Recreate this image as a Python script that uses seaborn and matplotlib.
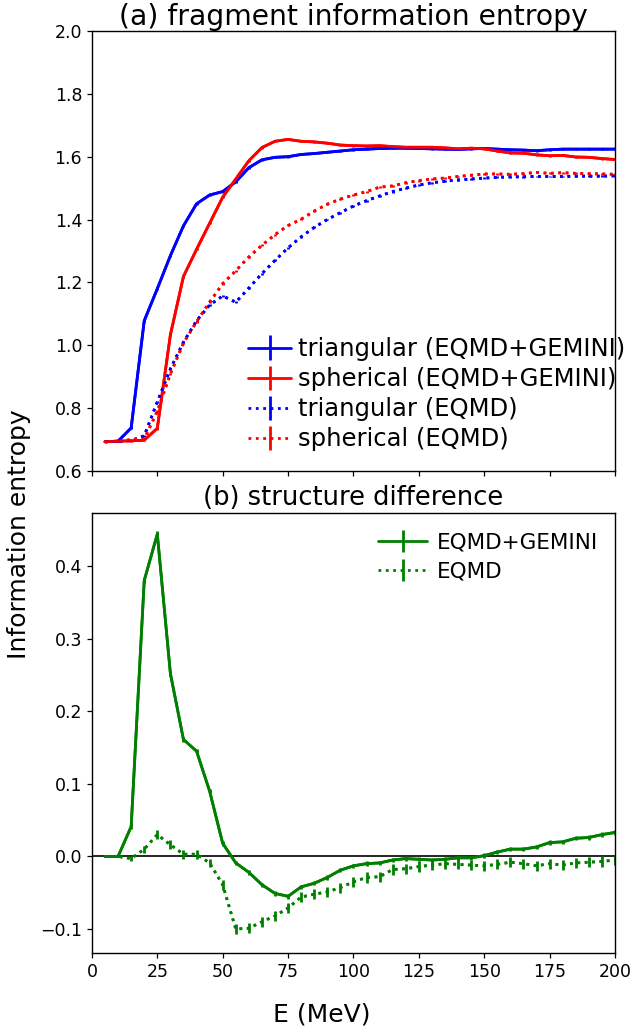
import numpy as np
import pandas as pd
import matplotlib
matplotlib.use("Agg")
import matplotlib.pyplot as plt
import seaborn as sns

# ---------------- data ----------------
energy = [5, 10, 15, 20, 25, 30, 35, 40, 45, 50, 55, 60, 65, 70, 75, 80, 85, 90, 95, 100,
          105, 110, 115, 120, 125, 130, 135, 140, 145, 150, 155, 160, 165, 170, 175, 180,
          185, 190, 195, 200]

tri_gemini = [0.693, 0.695, 0.737, 1.078, 1.180, 1.285, 1.380, 1.450, 1.478, 1.489,
              1.520, 1.565, 1.590, 1.598, 1.600, 1.607, 1.610, 1.614, 1.618, 1.622,
              1.624, 1.626, 1.627, 1.627, 1.626, 1.625, 1.624, 1.623, 1.625, 1.626,
              1.624, 1.622, 1.621, 1.619, 1.622, 1.624, 1.624, 1.624, 1.624, 1.624]
sph_gemini = [0.693, 0.695, 0.696, 0.698, 0.736, 1.033, 1.219, 1.305, 1.388, 1.471,
              1.529, 1.587, 1.629, 1.649, 1.655, 1.649, 1.647, 1.643, 1.637, 1.635,
              1.634, 1.635, 1.632, 1.630, 1.630, 1.630, 1.628, 1.625, 1.627, 1.625,
              1.618, 1.612, 1.611, 1.606, 1.603, 1.604, 1.599, 1.598, 1.594, 1.591]
tri_eqmd = [0.693, 0.694, 0.697, 0.712, 0.820, 0.925, 1.010, 1.078, 1.128, 1.157,
            1.137, 1.182, 1.228, 1.270, 1.310, 1.345, 1.375, 1.400, 1.422, 1.443,
            1.460, 1.475, 1.489, 1.500, 1.510, 1.517, 1.522, 1.526, 1.529, 1.532,
            1.534, 1.536, 1.536, 1.537, 1.537, 1.537, 1.538, 1.538, 1.538, 1.539]
sph_eqmd = [0.693, 0.694, 0.700, 0.702, 0.790, 0.909, 1.007, 1.075, 1.137, 1.196,
            1.237, 1.281, 1.318, 1.352, 1.381, 1.401, 1.427, 1.449, 1.465, 1.478,
            1.489, 1.503, 1.507, 1.517, 1.524, 1.529, 1.532, 1.537, 1.541, 1.545,
            1.545, 1.544, 1.546, 1.550, 1.547, 1.549, 1.547, 1.546, 1.545, 1.544]
err_top = [0.002, 0.002, 0.003, 0.004, 0.004, 0.004, 0.004, 0.003, 0.003, 0.003,
           0.003, 0.003, 0.003, 0.003, 0.003, 0.003, 0.003, 0.003, 0.003, 0.003,
           0.003, 0.003, 0.003, 0.003, 0.003, 0.003, 0.003, 0.003, 0.003, 0.003,
           0.003, 0.003, 0.003, 0.003, 0.003, 0.003, 0.003, 0.003, 0.003, 0.003]

diff_gemini = [0.000, 0.000, 0.041, 0.380, 0.444, 0.252, 0.161, 0.145, 0.090, 0.018,
               -0.009, -0.022, -0.039, -0.051, -0.055, -0.042, -0.037, -0.029, -0.019, -0.013,
               -0.010, -0.009, -0.005, -0.003, -0.004, -0.005, -0.004, -0.002, -0.002, 0.001,
               0.006, 0.010, 0.010, 0.013, 0.019, 0.020, 0.025, 0.026, 0.030, 0.033]
diff_eqmd = [0.000, 0.000, -0.003, 0.010, 0.030, 0.016, 0.003, 0.003, -0.009, -0.039,
             -0.100, -0.099, -0.090, -0.082, -0.071, -0.056, -0.052, -0.049, -0.043, -0.035,
             -0.029, -0.028, -0.018, -0.017, -0.014, -0.012, -0.010, -0.011, -0.012, -0.013,
             -0.011, -0.008, -0.010, -0.013, -0.010, -0.012, -0.009, -0.008, -0.007, -0.005]
err_diff_gemini = [0.001, 0.001, 0.003, 0.004, 0.004, 0.004, 0.004, 0.003, 0.003, 0.003,
                   0.003, 0.003, 0.003, 0.003, 0.003, 0.003, 0.003, 0.003, 0.003, 0.003,
                   0.003, 0.003, 0.003, 0.003, 0.003, 0.003, 0.003, 0.003, 0.003, 0.003,
                   0.003, 0.003, 0.003, 0.003, 0.003, 0.003, 0.003, 0.003, 0.003, 0.003]
err_diff_eqmd = [0.001, 0.001, 0.004, 0.005, 0.006, 0.006, 0.006, 0.006, 0.006, 0.007,
                 0.007, 0.007, 0.007, 0.007, 0.007, 0.007, 0.007, 0.007, 0.007, 0.007,
                 0.007, 0.007, 0.007, 0.007, 0.007, 0.007, 0.007, 0.007, 0.007, 0.007,
                 0.007, 0.007, 0.007, 0.007, 0.007, 0.007, 0.007, 0.007, 0.007, 0.007]

top_series = [
    ("triangular (EQMD+GEMINI)", tri_gemini, "blue", "-"),
    ("spherical (EQMD+GEMINI)", sph_gemini, "red", "-"),
    ("triangular (EQMD)", tri_eqmd, "blue", ":"),
    ("spherical (EQMD)", sph_eqmd, "red", ":"),
]
bottom_series = [
    ("EQMD+GEMINI", diff_gemini, err_diff_gemini, "green", "-"),
    ("EQMD", diff_eqmd, err_diff_eqmd, "green", ":"),
]

# ---------------- plot ----------------
sns.set_theme(style="ticks")
plt.rcParams["font.family"] = ["DejaVu Sans"]
plt.rcParams.update({
    "text.color": "black", "axes.labelcolor": "black",
    "xtick.color": "black", "ytick.color": "black",
    "axes.edgecolor": "black",
    "xtick.major.size": 3.5, "ytick.major.size": 3.5,
    "xtick.major.width": 0.9, "ytick.major.width": 0.9,
})

fig = plt.figure(figsize=(6.34, 10.32), dpi=100)
ax1 = fig.add_axes([0.145, 0.5436, 0.825, 0.4264])
ax2 = fig.add_axes([0.145, 0.0766, 0.825, 0.4263], sharex=ax1)

LW = 2.0
handles = []
for label, vals, color, ls in top_series:
    df = pd.DataFrame({"E": energy, "S": vals})
    sns.lineplot(data=df, x="E", y="S", ax=ax1, color=color, linestyle=ls,
                 linewidth=LW, legend=False)
    h = ax1.errorbar(energy, vals, yerr=err_top, color=color, linestyle=ls,
                     linewidth=LW, label=label)
    handles.append(h)

ax1.set_xlim(0, 200)
ax1.set_ylim(0.6, 2.0)
ax1.set_yticks([0.6, 0.8, 1.0, 1.2, 1.4, 1.6, 1.8, 2.0])
ax1.set_xlabel("")
ax1.set_ylabel("")
ax1.tick_params(labelbottom=False, labelsize=12.5)
ax1.set_title("(a) fragment information entropy", fontsize=20.3, pad=4)
ax1.legend(handles=handles, loc="lower right", frameon=False, fontsize=17.5,
           handlelength=1.75, handletextpad=0.3, labelspacing=0.25,
           bbox_to_anchor=(1.062, -0.005))

handles2 = []
for label, vals, errs, color, ls in bottom_series:
    df = pd.DataFrame({"E": energy, "D": vals})
    sns.lineplot(data=df, x="E", y="D", ax=ax2, color=color, linestyle=ls,
                 linewidth=LW, legend=False)
    h = ax2.errorbar(energy, vals, yerr=errs, fmt=ls, color=color,
                     linewidth=LW, label=label)
    handles2.append(h)
ax2.axhline(0, color="black", linewidth=1.2, zorder=1)
ax2.set_ylim(-0.133, 0.473)
ax2.set_xticks([0, 25, 50, 75, 100, 125, 150, 175, 200])
ax2.set_yticks([-0.1, 0.0, 0.1, 0.2, 0.3, 0.4])
ax2.set_xlabel("")
ax2.set_ylabel("")
ax2.tick_params(labelsize=12.5)
ax2.set_title("(b) structure difference", fontsize=18.5, pad=6)
ax2.legend(handles=handles2, loc="upper right", frameon=False, fontsize=15.5,
           handlelength=2.3, handletextpad=0.45, labelspacing=0.42,
           bbox_to_anchor=(1.005, 1.0))

for ax in (ax1, ax2):
    for sp in ax.spines.values():
        sp.set_linewidth(1.0)
        sp.set_color("black")
        sp.set_visible(True)

fig.text(0.03, 0.482, "Information entropy", rotation=90, ha="center", va="center",
         fontsize=18)
fig.text(0.507, 0.017, "E (MeV)", ha="center", va="center", fontsize=18)

fig.savefig("out.png", dpi=100)
